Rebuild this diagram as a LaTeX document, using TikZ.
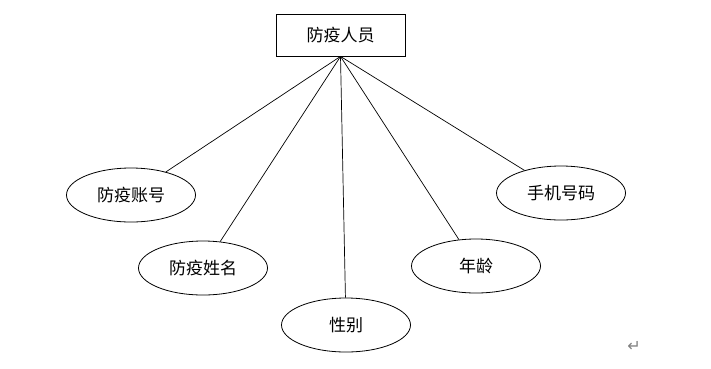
\documentclass[tikz,border=0pt]{standalone}
\usepackage{fontspec}
\newfontfamily\cjk{Noto Sans CJK SC}
\newfontfamily\symb{DejaVu Sans}
\usetikzlibrary{shapes.geometric}

\begin{document}
\begin{tikzpicture}[x=1pt, y=-1pt, font=\cjk\fontsize{17}{17}\selectfont,
    entity/.style={draw, line width=0.8pt, minimum width=129pt, minimum height=42pt, inner sep=0pt},
    attr/.style={draw, ellipse, line width=0.8pt, minimum width=129pt, minimum height=54pt, inner sep=0pt},
    link/.style={line width=0.7pt}]
  \useasboundingbox (0,0) rectangle (711,368);
  \node[entity] (staff) at (340.5,35) {防疫人员};
  \node[attr] (acct) at (131,195) {防疫账号};
  \node[attr] (name) at (203,268) {防疫姓名};
  \node[attr] (sex) at (346,325) {性别};
  \node[attr] (age) at (476,266) {年龄};
  \node[attr] (phone) at (561,193) {手机号码};
  \node[text=gray, font=\symb\fontsize{16}{16}\selectfont] (mark) at (634,346) {↵};

  \foreach \a in {acct, name, sex, age, phone}
    \draw[link] (staff.south) -- (\a);
\end{tikzpicture}
\end{document}
